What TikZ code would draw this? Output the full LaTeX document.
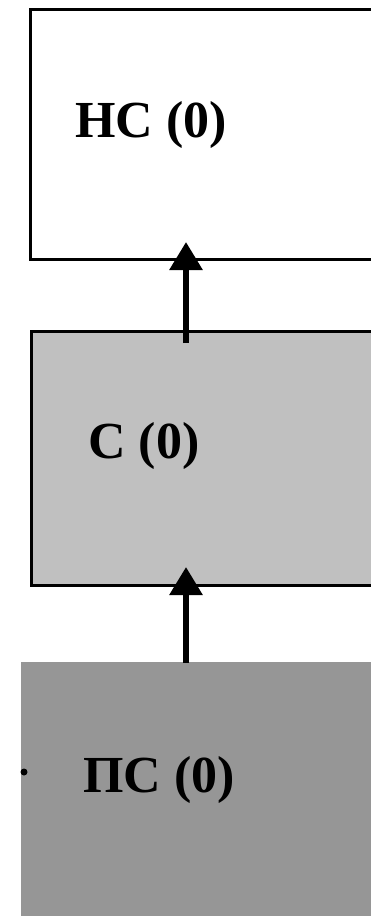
\documentclass[tikz,border=0pt]{standalone}
\usepackage{fontspec}
\setmainfont{Liberation Serif}
\usetikzlibrary{arrows.meta, positioning}
\definecolor{midgray}{RGB}{192,192,192}
\definecolor{lowgray}{RGB}{150,150,150}
\tikzset{
  level/.style={rectangle, draw=black, line width=2.5pt, anchor=north west,
    inner sep=0pt, minimum width=380pt},
  lab/.style={anchor=base west, inner sep=0pt,
    font=\fontsize{52}{56}\selectfont\bfseries},
  arrow/.style={-{Triangle[length=28pt, width=32pt]}, line width=6pt, color=black}
}
\begin{document}
\begin{tikzpicture}[x=1pt, y=-1pt]
  \useasboundingbox (0,0) rectangle (371,916);
  \clip (0,0) rectangle (371,916);

  % Levels
  \node[level, fill=white, minimum height=250pt] (ns) at (29,8) {};
  \node[level, fill=midgray, minimum height=254pt] (s) at (30,330) {};
  \node[level, draw=none, fill=lowgray, minimum height=270pt] (ps) at (20,661) {};

  % Labels
  \node[lab] (nslab) at (75,137) {НС (0)};
  \node[lab] (slab) at (88,458) {С (0)};
  \node[lab] (pslab) at (83,792) {ПС (0)};
  \fill (24,772) circle (3.5pt) coordinate (dot);

  % Connections
  \coordinate (a1) at (186,663);
  \coordinate (b1) at (186,567);
  \coordinate (a2) at (186,343);
  \coordinate (b2) at (186,242);
  \draw[arrow] (a1) -- (b1);
  \draw[arrow] (a2) -- (b2);

\end{tikzpicture}
\end{document}
